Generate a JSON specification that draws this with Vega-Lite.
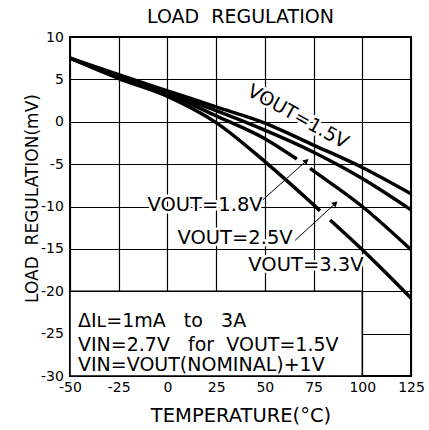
{
  "$schema": "https://vega.github.io/schema/vega-lite/v6.json",
  "width": 341,
  "height": 339,
  "autosize": {"type": "none"},
  "padding": {"left": 70, "top": 37, "right": 18, "bottom": 54},
  "background": "white",
  "title": {"text": "LOAD\u00a0\u00a0REGULATION", "font": "DejaVu Sans", "fontSize": 19, "fontWeight": "normal", "color": "black", "offset": 3},
  "config": {"view": {"stroke": "black", "strokeWidth": 2}, "font": "DejaVu Sans"},
  "datasets": {
    "curves": [
      {"series": "1.5V", "seg": "1.5a", "x": -50, "y": 7.5},
      {"series": "1.5V", "seg": "1.5a", "x": -25, "y": 5.55},
      {"series": "1.5V", "seg": "1.5a", "x": 0, "y": 3.65},
      {"series": "1.5V", "seg": "1.5a", "x": 25, "y": 1.75},
      {"series": "1.5V", "seg": "1.5a", "x": 50, "y": -0.15},
      {"series": "1.5V", "seg": "1.5a", "x": 75, "y": -2.75},
      {"series": "1.5V", "seg": "1.5a", "x": 100, "y": -5.4},
      {"series": "1.5V", "seg": "1.5a", "x": 125, "y": -8.5},
      {"series": "1.8V", "seg": "1.8a", "x": -50, "y": 7.5},
      {"series": "1.8V", "seg": "1.8a", "x": -25, "y": 5.4},
      {"series": "1.8V", "seg": "1.8a", "x": 0, "y": 3.45},
      {"series": "1.8V", "seg": "1.8a", "x": 25, "y": 1.3},
      {"series": "1.8V", "seg": "1.8a", "x": 50, "y": -1.0},
      {"series": "1.8V", "seg": "1.8a", "x": 75, "y": -3.6},
      {"series": "1.8V", "seg": "1.8a", "x": 100, "y": -6.7},
      {"series": "1.8V", "seg": "1.8a", "x": 125, "y": -10.4},
      {"series": "2.5V", "seg": "2.5a", "x": -50, "y": 7.5},
      {"series": "2.5V", "seg": "2.5a", "x": -25, "y": 5.25},
      {"series": "2.5V", "seg": "2.5a", "x": 0, "y": 3.3},
      {"series": "2.5V", "seg": "2.5a", "x": 25, "y": 0.7},
      {"series": "2.5V", "seg": "2.5a", "x": 50, "y": -2.0},
      {"series": "2.5V", "seg": "2.5a", "x": 66.4, "y": -4.4},
      {"series": "2.5V", "seg": "2.5b", "x": 73.2, "y": -5.5},
      {"series": "2.5V", "seg": "2.5b", "x": 75, "y": -5.8},
      {"series": "2.5V", "seg": "2.5b", "x": 100, "y": -10.0},
      {"series": "2.5V", "seg": "2.5b", "x": 125, "y": -15.1},
      {"series": "3.3V", "seg": "3.3a", "x": -50, "y": 7.5},
      {"series": "3.3V", "seg": "3.3a", "x": -25, "y": 5.1},
      {"series": "3.3V", "seg": "3.3a", "x": 0, "y": 3.0},
      {"series": "3.3V", "seg": "3.3a", "x": 25, "y": -0.1},
      {"series": "3.3V", "seg": "3.3a", "x": 50, "y": -4.7},
      {"series": "3.3V", "seg": "3.3a", "x": 75, "y": -9.8},
      {"series": "3.3V", "seg": "3.3a", "x": 78.3, "y": -10.5},
      {"series": "3.3V", "seg": "3.3b", "x": 83.5, "y": -11.6},
      {"series": "3.3V", "seg": "3.3b", "x": 100, "y": -15.1},
      {"series": "3.3V", "seg": "3.3b", "x": 125, "y": -20.8}
    ],
    "box": [
      {"x": -50, "x2": 100, "y": -30, "y2": -20}
    ],
    "boxtext": [
      {"x": -45.9, "y": -24.2, "label": "ΔIʟ=1mA\u00a0\u00a0\u00a0to\u00a0\u00a0\u00a03A"},
      {"x": -45.9, "y": -27.0, "label": "VIN=2.7V\u00a0\u00a0\u00a0for\u00a0\u00a0VOUT=1.5V"},
      {"x": -45.9, "y": -29.4, "label": "VIN=VOUT(NOMINAL)+1V"}
    ],
    "rotlabel": [
      {"x": 67.0, "y": 0.6, "label": "VOUT=1.5V"}
    ],
    "labels": [
      {"x": 19.3, "y": -9.8, "label": "VOUT=1.8V"},
      {"x": 34.7, "y": -13.75, "label": "VOUT=2.5V"},
      {"x": 71.1, "y": -16.9, "label": "VOUT=3.3V"}
    ],
    "arrows": [
      {"x": 48.9, "y": -9.22, "x2": 71.3, "y2": -4.62},
      {"x": 65.5, "y": -14.0, "x2": 86.2, "y2": -9.63}
    ],
    "heads": [
      {"x": 71.3, "y": -4.62},
      {"x": 86.2, "y": -9.63}
    ]
  },
  "encoding": {
    "x": {
      "field": "x", "type": "quantitative",
      "scale": {"domain": [-50, 125], "nice": false, "zero": false},
      "axis": {
        "values": [-50, -25, 0, 25, 50, 75, 100, 125],
        "title": "TEMPERATURE(°C)",
        "grid": true, "gridColor": "black", "gridWidth": 1.2, "gridOpacity": 1,
        "domain": false, "ticks": false, "tickSize": 0,
        "labelPadding": 4, "labelFont": "DejaVu Sans", "labelFontSize": 14, "labelColor": "black",
        "labelFlush": false, "labelOverlap": false, "labelExpr": "toString(datum.value)",
        "titleFont": "DejaVu Sans", "titleFontSize": 19.5, "titleFontWeight": "normal", "titleColor": "black",
        "titleY": 45.7, "titleBaseline": "alphabetic"
      }
    },
    "y": {
      "field": "y", "type": "quantitative",
      "scale": {"domain": [-30, 10], "nice": false, "zero": false},
      "axis": {
        "values": [-30, -25, -20, -15, -10, -5, 0, 5, 10],
        "title": "LOAD\u00a0\u00a0REGULATION(mV)",
        "grid": true, "gridColor": "black", "gridWidth": 1.2, "gridOpacity": 1,
        "domain": false, "ticks": false, "tickSize": 0,
        "labelPadding": 6.7, "labelFont": "DejaVu Sans", "labelFontSize": 14, "labelColor": "black",
        "labelOverlap": false, "labelExpr": "toString(datum.value)",
        "titleFont": "DejaVu Sans", "titleFontSize": 17, "titleFontWeight": "normal", "titleColor": "black",
        "titleAngle": 270, "titleX": -33, "titleY": 161, "titleBaseline": "alphabetic", "titleAlign": "center"
      }
    }
  },
  "layer": [
    {
      "data": {"name": "box"},
      "mark": {"type": "rect", "fill": "white", "stroke": "black", "strokeWidth": 1.5},
      "encoding": {"x2": {"field": "x2"}, "y2": {"field": "y2"}}
    },
    {
      "data": {"name": "rotlabel"},
      "mark": {"type": "text", "font": "DejaVu Sans", "fontSize": 19, "angle": 29, "align": "center", "baseline": "middle", "fill": "white", "stroke": "white", "strokeWidth": 5, "strokeJoin": "round"},
      "encoding": {"text": {"field": "label"}}
    },
    {
      "data": {"name": "labels"},
      "mark": {"type": "text", "font": "DejaVu Sans", "fontSize": 19.5, "align": "center", "baseline": "middle", "fill": "white", "stroke": "white", "strokeWidth": 5, "strokeJoin": "round"},
      "encoding": {"text": {"field": "label"}}
    },
    {
      "data": {"name": "curves"},
      "mark": {"type": "line", "color": "black", "strokeWidth": 3.5, "interpolate": "monotone", "strokeCap": "butt"},
      "encoding": {"detail": {"field": "seg"}}
    },
    {
      "data": {"name": "rotlabel"},
      "mark": {"type": "text", "font": "DejaVu Sans", "fontSize": 19, "angle": 29, "align": "center", "baseline": "middle", "color": "black"},
      "encoding": {"text": {"field": "label"}}
    },
    {
      "data": {"name": "labels"},
      "mark": {"type": "text", "font": "DejaVu Sans", "fontSize": 19.5, "align": "center", "baseline": "middle", "color": "black"},
      "encoding": {"text": {"field": "label"}}
    },
    {
      "data": {"name": "boxtext"},
      "mark": {"type": "text", "font": "DejaVu Sans", "fontSize": 19, "align": "left", "baseline": "alphabetic", "color": "black"},
      "encoding": {"text": {"field": "label"}}
    },
    {
      "data": {"name": "arrows"},
      "mark": {"type": "rule", "color": "black", "strokeWidth": 1},
      "encoding": {"x2": {"field": "x2"}, "y2": {"field": "y2"}}
    },
    {
      "data": {"name": "heads"},
      "mark": {"type": "point", "shape": "triangle-up", "filled": true, "color": "black", "opacity": 1, "size": 40, "angle": 48},
      "encoding": {}
    }
  ]
}
